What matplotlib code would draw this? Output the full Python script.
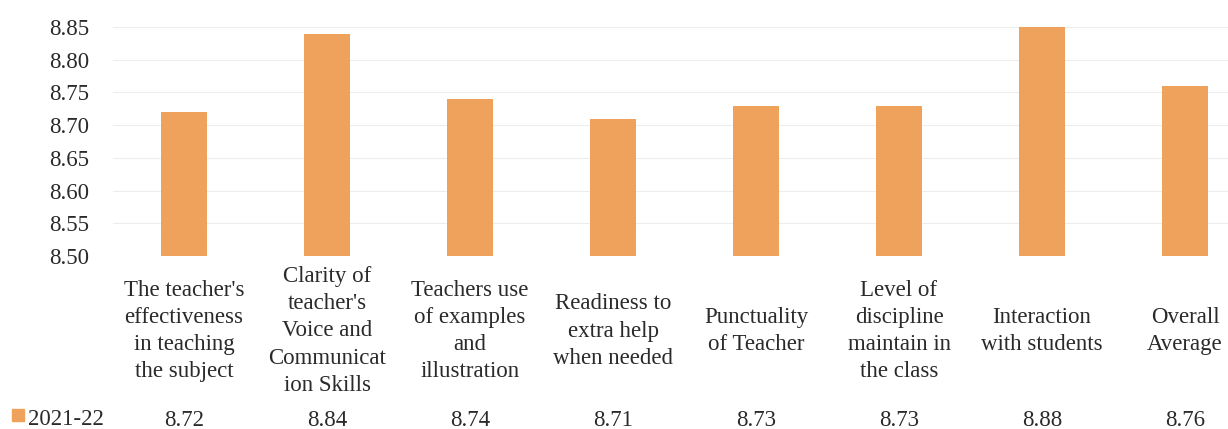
import matplotlib
matplotlib.use("Agg")
import matplotlib.pyplot as plt
from matplotlib.patches import Rectangle
import matplotlib.transforms as mtrans

categories = [
    "The teacher's\neffectiveness\nin teaching\nthe subject",
    "Clarity of\nteacher's\nVoice and\nCommunicat\nion Skills",
    "Teachers use\nof examples\nand\nillustration",
    "Readiness to\nextra help\nwhen needed",
    "Punctuality\nof Teacher",
    "Level of\ndiscipline\nmaintain in\nthe class",
    "Interaction\nwith students",
    "Overall\nAverage",
]
values = [8.72, 8.84, 8.74, 8.71, 8.73, 8.73, 8.88, 8.76]
series_name = "2021-22"
yticks = [8.50, 8.55, 8.60, 8.65, 8.70, 8.75, 8.80, 8.85]

bar_color = "#EFA25C"
text_color = "#2a2a2a"
plt.rcParams['font.family'] = ['Liberation Serif', 'DejaVu Serif']
FS = 16.5

W, H = 1228, 429
fig = plt.figure(figsize=(W / 100, H / 100), dpi=100)
fig.patch.set_facecolor("white")

left_px, right_px = 112.5, 112.5 + 8 * 143
top_px, bot_px = 27, 256
ax = fig.add_axes([left_px / W, 1 - bot_px / H, (right_px - left_px) / W, (bot_px - top_px) / H])
ax.set_facecolor("white")

x = list(range(len(categories)))
ax.bar(x, [v - 8.5 for v in values], bottom=8.5, width=0.315, color=bar_color, zorder=3)
ax.set_xlim(-0.5, len(categories) - 0.5)
ax.set_ylim(8.5, 8.85)
ax.set_yticks(yticks)
ax.set_yticklabels([f"{t:.2f}" for t in yticks], fontsize=FS, color=text_color)
ax.tick_params(axis='y', length=0, pad=17)
ax.set_xticks([])
ax.grid(axis='y', color='#ededed', linewidth=0.8, zorder=0)
for s in ax.spines.values():
    s.set_visible(False)

trans = mtrans.blended_transform_factory(ax.transData, ax.transAxes)
lab_y = (bot_px - 331) / (bot_px - top_px)
val_y = (bot_px - 426) / (bot_px - top_px)
for xi, cat, v in zip(x, categories, values):
    ax.text(xi, lab_y, cat, transform=trans, ha='center', va='center',
            fontsize=FS, linespacing=1.38, color=text_color, clip_on=False)
    ax.text(xi, val_y, f"{v:.2f}", transform=trans, ha='center', va='baseline',
            fontsize=FS, color=text_color, clip_on=False)

# legend key in the data table row
fig.patches.append(Rectangle((12 / W, 1 - 421 / H), 12 / W, 12 / H,
                             transform=fig.transFigure, color=bar_color))
fig.text(28 / W, 1 - 425 / H, series_name, ha='left', va='baseline',
         fontsize=FS, color=text_color)

fig.savefig("out.png", dpi=100, facecolor="white")
